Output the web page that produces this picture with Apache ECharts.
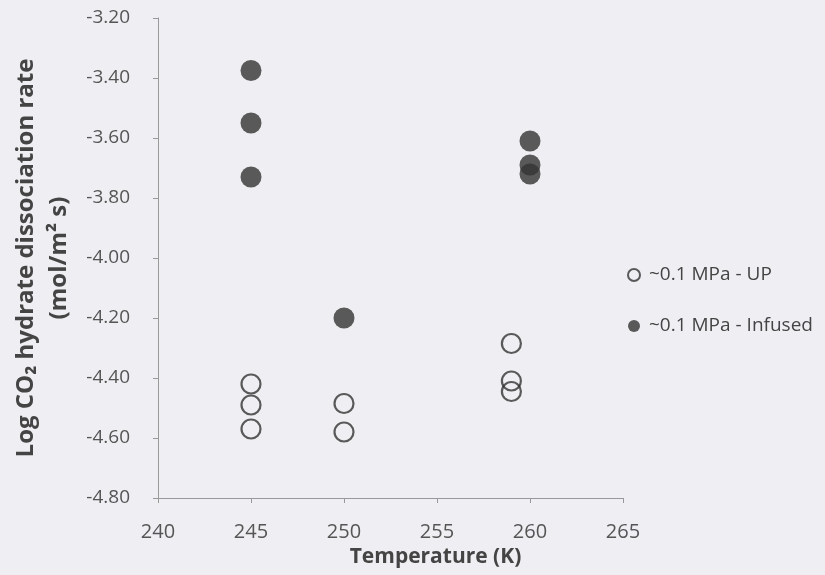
<!DOCTYPE html>
<html>
<head>
<meta charset="utf-8">
<title>CO2 hydrate dissociation</title>
<script src="https://cdn.jsdelivr.net/npm/echarts@6/dist/echarts.min.js"></script>
<style>
  html, body { margin: 0; padding: 0; background: #efeff3; }
  #chart { width: 825px; height: 575px; }
</style>
</head>
<body>
<div id="chart"></div>
<script>
// ~0.1 MPa - UP (open circles)
var upTemp = [245, 245, 245, 250, 250, 259, 259, 259];
var upRate = [-4.42, -4.49, -4.57, -4.485, -4.58, -4.285, -4.41, -4.445];
// ~0.1 MPa - Infused (filled circles)
var infTemp = [245, 245, 245, 250, 260, 260, 260];
var infRate = [-3.375, -3.55, -3.73, -4.20, -3.61, -3.69, -3.72];

var seriesNames = ['~0.1 MPa - UP', '~0.1 MPa - Infused'];

function pairs(xs, ys) {
    return xs.map(function(x, i) { return [x, ys[i]]; });
}

var chart = echarts.init(document.getElementById('chart'), null, { renderer: 'canvas' });

var font = '"Open Sans", "DejaVu Sans", sans-serif';

chart.setOption({
    backgroundColor: '#efeff3',
    animation: false,
    grid: { left: 158, right: 202, top: 18, bottom: 77, outerBoundsMode: 'none', containLabel: false },
    legend: {
        orient: 'vertical',
        left: 622,
        top: 259,
        itemWidth: 12,
        itemHeight: 12,
        itemGap: 29,
        textStyle: { fontFamily: font, fontSize: 19, color: '#444', lineHeight: 22, padding: [0, 0, 0, 4] },
        data: [
            { name: seriesNames[0], icon: 'circle', itemStyle: { color: 'transparent', borderColor: '#333', borderWidth: 2 } },
            { name: seriesNames[1], icon: 'circle', itemStyle: { color: '#333' } }
        ]
    },
    xAxis: {
        type: 'value',
        min: 240,
        max: 265,
        interval: 5,
        name: 'Temperature (K)',
        nameLocation: 'middle',
        nameGap: 49,
        nameTextStyle: { fontFamily: font, fontSize: 21, fontWeight: 'bold', color: '#444', padding: [0, 0, 0, 90] },
        axisLine: { lineStyle: { color: '#999', width: 1 } },
        axisTick: { show: true, length: 5, lineStyle: { color: '#999' } },
        axisLabel: { fontFamily: font, fontSize: 20, color: '#555', margin: 24 },
        splitLine: { show: false }
    },
    yAxis: {
        type: 'value',
        min: -4.8,
        max: -3.2,
        interval: 0.2,
        name: 'Log CO\u2082 hydrate dissociation rate\n(mol/m\u00B2 s)',
        nameLocation: 'middle',
        nameGap: 80,
        nameTextStyle: { fontFamily: font, fontSize: 24, fontWeight: 'bold', color: '#444', lineHeight: 33 },
        axisLine: { show: true, lineStyle: { color: '#999', width: 1 } },
        axisTick: { show: true, length: 5, lineStyle: { color: '#999' } },
        axisLabel: {
            fontFamily: font, fontSize: 19, color: '#555', margin: 28,
            formatter: function(v) { return v.toFixed(2); }
        },
        splitLine: { show: false }
    },
    series: [
        {
            name: seriesNames[0],
            type: 'scatter',
            symbol: 'circle',
            symbolSize: 19,
            itemStyle: { color: 'transparent', borderColor: '#333', borderWidth: 2.2 },
            data: pairs(upTemp, upRate)
        },
        {
            name: seriesNames[1],
            type: 'scatter',
            symbol: 'circle',
            symbolSize: 21,
            itemStyle: { color: '#333' },
            data: pairs(infTemp, infRate)
        }
    ]
});
</script>
</body>
</html>
